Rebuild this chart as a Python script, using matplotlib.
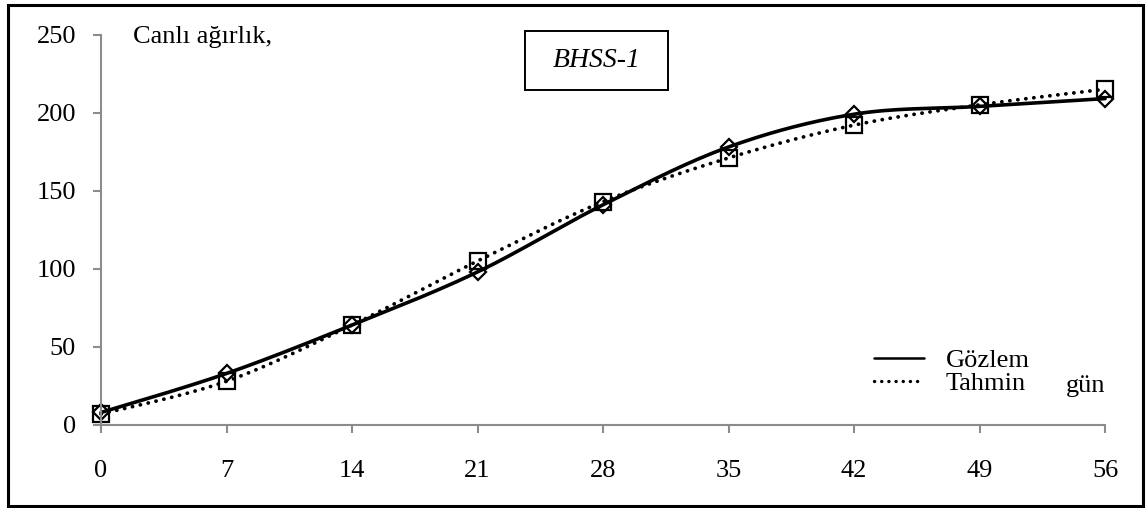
import numpy as np
import matplotlib
matplotlib.use("Agg")
from matplotlib import pyplot as plt
from matplotlib.patches import Rectangle

plt.rcParams['font.family'] = ['Liberation Serif', 'DejaVu Serif']

# days and live weight
days = [0, 7, 14, 21, 28, 35, 42, 49, 56]
gozlem = [8, 33, 64, 98, 141, 178, 199, 204, 209]
tahmin = [7, 28, 64, 105, 143, 171, 192, 205, 215]


def smooth(x, y, n=30):
    # spreadsheet-style smoothed line: cubic bezier through each point
    x = np.asarray(x, float)
    y = np.asarray(y, float)
    px = np.concatenate([[x[0]], x, [x[-1]]])
    py = np.concatenate([[y[0]], y, [y[-1]]])
    t = np.linspace(0, 1, n)[:, None]
    xs, ys = [], []
    for i in range(len(x) - 1):
        p0 = np.array([px[i + 1], py[i + 1]])
        p3 = np.array([px[i + 2], py[i + 2]])
        p1 = p0 + (p3 - np.array([px[i], py[i]])) / 6
        p2 = p3 - (np.array([px[i + 3], py[i + 3]]) - p0) / 6
        b = ((1 - t) ** 3) * p0 + 3 * ((1 - t) ** 2) * t * p1 + 3 * (1 - t) * t ** 2 * p2 + t ** 3 * p3
        xs.append(b[:, 0])
        ys.append(b[:, 1])
    return np.concatenate(xs), np.concatenate(ys)


fig = plt.figure(figsize=(11.48, 5.08), dpi=100)
ax = fig.add_axes([0.088, 0.1634, 0.8746, 0.7686])

gx, gy = smooth(days, gozlem)
tx, ty = smooth(days, tahmin)

ax.plot(gx, gy, color='black', lw=2.6, solid_capstyle='round', label='Gözlem',
        clip_on=False)
ax.plot(tx, ty, color='black', lw=2.7, linestyle=(0, (0.05, 2.1)),
        dash_capstyle='round', label='Tahmin', clip_on=False)
ax.plot(days, gozlem, linestyle='none', marker='D', ms=8, mfc='none',
        mec='black', mew=1.6, clip_on=False)
ax.plot(days, tahmin, linestyle='none', marker='s', ms=11, mfc='none',
        mec='black', mew=1.6, clip_on=False)

ax.set_xlim(0, 56)
ax.set_ylim(0, 250)
ax.set_xticks(days)
ax.set_yticks([0, 50, 100, 150, 200, 250])

for side in ['top', 'right']:
    ax.spines[side].set_visible(False)
for side in ['left', 'bottom']:
    ax.spines[side].set_color('#8c8c8c')
    ax.spines[side].set_linewidth(1.5)

ax.tick_params(axis='x', direction='out', length=6, width=1.5, color='#8c8c8c',
               labelsize=19, pad=19)
ax.tick_params(axis='y', direction='out', length=6, width=1.5, color='#8c8c8c',
               labelsize=19, pad=12)

ax.text(0.032, 0.994, 'Canlı ağırlık,', transform=ax.transAxes,
        fontsize=19, va='center', ha='left')
ax.text(0.961, 0.10, 'gün', transform=ax.transAxes,
        fontsize=19, va='center', ha='left')

# title box
ax.add_patch(Rectangle((0.422, 0.858), 0.143, 0.151, transform=ax.transAxes,
                       fill=False, edgecolor='black', lw=1.4, clip_on=False))
ax.text(0.4935, 0.934, 'BHSS-1', transform=ax.transAxes, fontsize=20,
        style='italic', ha='center', va='center')

leg = ax.legend(loc='lower left', bbox_to_anchor=(0.757, 0.042), frameon=False,
                fontsize=19, handlelength=1.9, handletextpad=0.8, labelspacing=0.0,
                borderpad=0)
leg.get_lines()[0].set_linewidth(1.8)
leg.get_lines()[1].set_linewidth(2.4)

# outer frame
fig.patches.append(Rectangle((0.007, 0.004), 0.989, 0.986, transform=fig.transFigure,
                             fill=False, edgecolor='black', lw=2.2))

fig.savefig('out.png', dpi=100)
